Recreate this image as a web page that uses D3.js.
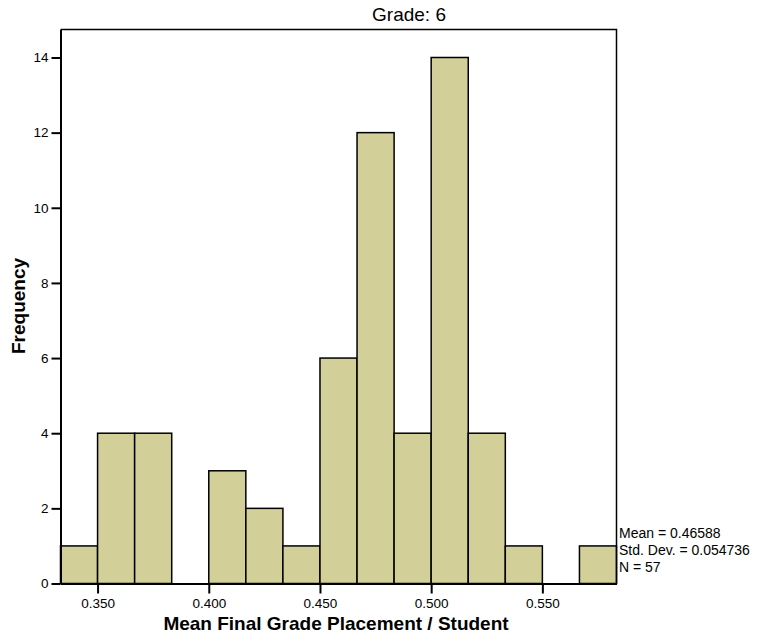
<!DOCTYPE html>
<html>
<head>
<meta charset="utf-8">
<script src="https://cdn.jsdelivr.net/npm/d3@7"></script>
<style>
  html, body { margin: 0; padding: 0; background: #fff; }
  svg { display: block; font-family: "Liberation Sans", Arial, sans-serif; }
</style>
</head>
<body>
<svg id="chart" width="757" height="644"></svg>
<script>
// Histogram bins (width 1/60) and their counts
const binStarts = [0.33333, 0.35, 0.36667, 0.38333, 0.4, 0.41667, 0.43333, 0.45,
                   0.46667, 0.48333, 0.5, 0.51667, 0.53333, 0.55, 0.56667];
const binWidth = 1 / 60;
const counts = [1, 4, 4, 0, 3, 2, 1, 6, 12, 4, 14, 4, 1, 0, 1];
const xTicks = [0.35, 0.40, 0.45, 0.50, 0.55];
const yTicks = [0, 2, 4, 6, 8, 10, 12, 14];
const statLines = ["Mean = 0.46588", "Std. Dev. = 0.054736", "N = 57"];
const titleText = "Grade: 6";
const xLabel = "Mean Final Grade Placement / Student";
const yLabel = "Frequency";

const svg = d3.select("#chart");
const plot = { left: 60.5, right: 616.5, top: 29.5, bottom: 583.5 };

const x = d3.scaleLinear().domain([0.33333, 0.58333]).range([plot.left, plot.right]);
const y = d3.scaleLinear().domain([0, 14.745]).range([plot.bottom, plot.top]);

// bars
svg.append("g").selectAll("rect")
  .data(binStarts.map((s, i) => ({ s, c: counts[i] })).filter(d => d.c > 0))
  .join("rect")
  .attr("x", d => x(d.s))
  .attr("width", d => x(d.s + binWidth) - x(d.s))
  .attr("y", d => y(d.c))
  .attr("height", d => y(0) - y(d.c))
  .attr("fill", "#d3cf98")
  .attr("stroke", "#000")
  .attr("stroke-width", 1.5);

// frame: top and right edges
svg.append("path")
  .attr("d", `M${plot.left},${plot.top}H${plot.right}V${plot.bottom}`)
  .attr("fill", "none").attr("stroke", "#000").attr("stroke-width", 1.5);

// axes
const xAxis = d3.axisBottom(x).tickValues(xTicks).tickFormat(d3.format(".3f"))
  .tickSize(10).tickSizeOuter(0).tickPadding(5);
const gx = svg.append("g").attr("transform", `translate(0,${plot.bottom})`).call(xAxis);

const yAxis = d3.axisLeft(y).tickValues(yTicks).tickFormat(d3.format("d"))
  .tickSize(9).tickSizeOuter(0).tickPadding(3);
const gy = svg.append("g").attr("transform", `translate(${plot.left},0)`).call(yAxis);

[gx, gy].forEach(g => {
  g.select(".domain").attr("stroke", "#000").attr("stroke-width", 2);
  g.selectAll(".tick line").attr("stroke", "#000").attr("stroke-width", 2);
  g.selectAll(".tick text").attr("fill", "#000")
    .style("font-size", "13.5px").style("font-family", "Liberation Sans, Arial, sans-serif");
});

// title
svg.append("text")
  .attr("x", 409).attr("y", 21)
  .attr("text-anchor", "middle")
  .style("font-size", "19px")
  .text(titleText);

// axis titles
svg.append("text")
  .attr("x", 336).attr("y", 630)
  .attr("text-anchor", "middle")
  .style("font-size", "19px").style("font-weight", "bold")
  .text(xLabel);

svg.append("text")
  .attr("transform", "translate(25,306) rotate(-90)")
  .attr("text-anchor", "middle")
  .style("font-size", "19px").style("font-weight", "bold")
  .text(yLabel);

// summary statistics
svg.append("g").selectAll("text")
  .data(statLines)
  .join("text")
  .attr("x", 619)
  .attr("y", (d, i) => 538 + i * 17)
  .style("font-size", "14px")
  .text(d => d);
</script>
</body>
</html>
